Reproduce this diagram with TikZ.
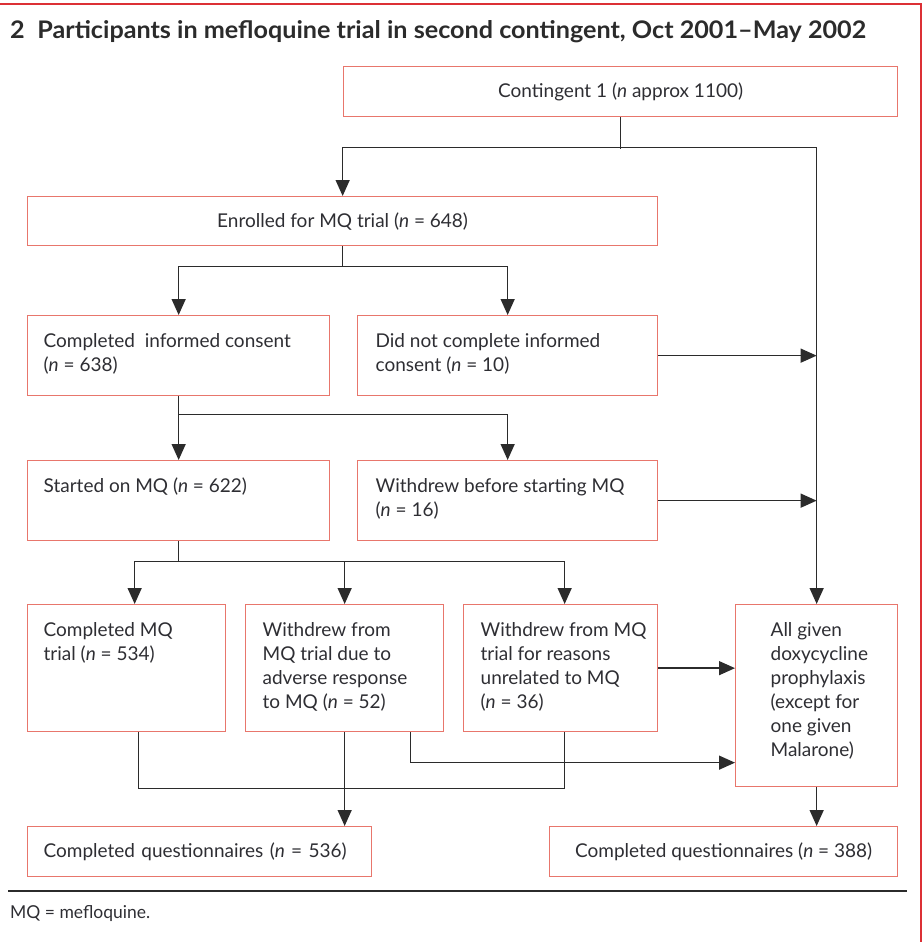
\documentclass[tikz,border=0pt]{standalone}
\usepackage{fontspec}
\usepackage{graphicx}
\setmainfont{Lato}
\usetikzlibrary{arrows.meta}
\definecolor{boxred}{HTML}{E8766C}
\definecolor{framered}{HTML}{DC3035}
\definecolor{ink}{HTML}{2B2B2B}
\definecolor{txt}{HTML}{2E2E33}
\newcommand\tb[4]{\parbox[c][#2][t]{#1}{\raggedright\leftskip=#3\relax\rule{0pt}{32pt}#4}}
\tikzset{
  box/.style={draw=boxred, line width=1.3pt, inner sep=0pt, text=txt, anchor=north west,
    font=\fontsize{19}{24}\selectfont},
  conn/.style={draw=ink, line width=1.4pt},
  arr/.style={conn, -{Triangle[length=16pt,width=14pt]}},
}
\begin{document}
\begin{tikzpicture}[x=1pt,y=-1pt]
\useasboundingbox (0,0) rectangle (923,942);
% frame
\draw[framered, line width=2.5pt] (0,4) -- (921,4) -- (921,942);
\node[anchor=base west, inner sep=0pt, text=ink, font=\bfseries] (title) at (10,39)
  {\resizebox{856pt}{18pt}{2\enspace Participants in mefloquine trial in second contingent, Oct 2001--May 2002}};
% boxes
\node[box, minimum width=554pt, minimum height=50pt] (c1) at (343,66) {Contingent 1 (\emph{n} approx 1100)};
\node[box, minimum width=630pt, minimum height=49pt] (enr) at (27,196) {Enrolled for MQ trial (\emph{n} = 648)};
\node[box] (cic) at (27,315) {\tb{302pt}{80pt}{16pt}{Completed\ \ informed consent\\(\emph{n} = 638)}};
\node[box] (dnc) at (357,315) {\tb{300pt}{80pt}{18pt}{Did not complete informed\\consent (\emph{n} = 10)}};
\node[box] (sm) at (27,460) {\tb{302pt}{80pt}{16pt}{Started on MQ (\emph{n} = 622)}};
\node[box] (wb) at (357,460) {\tb{300pt}{80pt}{18pt}{Withdrew before starting MQ\\(\emph{n} = 16)}};
\node[box] (cmq) at (27,604) {\tb{198pt}{127pt}{16pt}{Completed MQ\\trial (\emph{n} = 534)}};
\node[box] (wad) at (245,604) {\tb{198pt}{127pt}{17pt}{Withdrew from\\MQ trial due to\\adverse response\\to MQ (\emph{n} = 52)}};
\node[box] (wun) at (463,604) {\tb{194pt}{127pt}{17pt}{Withdrew from MQ\\trial for reasons\\unrelated to MQ\\(\emph{n} = 36)}};
\node[box] (doxy) at (735,604) {\tb{162pt}{182pt}{35pt}{All given\\doxycycline\\prophylaxis\\(except for\\one given\\Malarone)}};
\node[box, text width=312pt, inner xsep=16pt, minimum height=50pt, align=left] (cq1) at (27,826) {Completed questionnaires (\emph{n} = 536)};
\node[box, minimum width=348pt, minimum height=50pt] (cq2) at (549,826) {Completed questionnaires (\emph{n} = 388)};
% connectors
\draw[conn] (c1.south) -- ++(0,32);
\draw[arr] (c1.south) -- ++(0,30) -| (enr.north);
\draw[arr] (c1.south) -- ++(0,30) -| (doxy.north);
\draw[arr] (enr.south) -- ++(0,20) -| (cic.north);
\draw[arr] (enr.south) -- ++(0,20) -| (dnc.north);
\draw[arr] (cic.south) -- ++(0,18) -| (sm.north);
\draw[arr] (cic.south) -- ++(0,18) -| (wb.north);
\draw[arr] (sm.south) -- ++(0,20) -| ([xshift=8pt]cmq.north);
\draw[arr] (sm.south) -- ++(0,20) -| (wad.north);
\draw[arr] (sm.south) -- ++(0,20) -| ([xshift=4pt]wun.north);
\draw[arr] (dnc.east) -- (dnc.east -| doxy.north);
\draw[arr] (wb.east) -- (wb.east -| doxy.north);
\draw[arr] (wun.east) -- (wun.east -| doxy.west);
\draw[conn] ([xshift=12pt]cmq.south) -- ++(0,56) -| ([xshift=4pt]wun.south);
\draw[arr] (wad.south) -- (wad.south |- cq1.north);
\draw[arr] ([xshift=66pt]wad.south) |- ([yshift=-67pt]doxy.west);
\draw[arr] (doxy.south) -- (doxy.south |- cq2.north);
% rule and footnote
\draw[ink, line width=2.8pt] (8,891) -- (907,891);
\node[anchor=base west, inner sep=0pt, text=txt] (fn) at (10,918) {\resizebox{140pt}{13pt}{MQ = mefloquine.}};
\end{tikzpicture}
\end{document}
